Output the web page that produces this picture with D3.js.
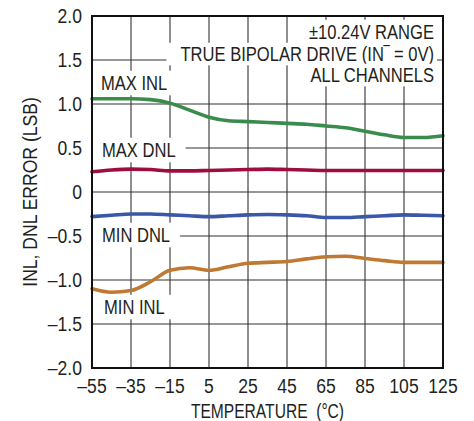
<!DOCTYPE html>
<html><head><meta charset="utf-8">
<script src="https://cdn.jsdelivr.net/npm/d3@7/dist/d3.min.js"></script>
<style>
html,body{margin:0;padding:0;background:#fff;}
svg text{font-family:"Liberation Sans","Arimo",Arial,sans-serif;fill:#231f20;}
</style></head>
<body>
<svg id="c" width="474" height="421"></svg>
<script>
const temps = [-55,-45,-35,-25,-15,-5,5,15,25,35,45,55,65,75,85,95,105,115,125];
const maxInl = [1.06,1.06,1.06,1.05,1.01,0.93,0.85,0.81,0.80,0.79,0.78,0.77,0.75,0.73,0.69,0.65,0.62,0.62,0.64];
const maxDnl = [0.23,0.25,0.26,0.255,0.24,0.24,0.245,0.25,0.255,0.26,0.255,0.25,0.245,0.245,0.245,0.245,0.245,0.245,0.245];
const minDnl = [-0.28,-0.265,-0.25,-0.25,-0.26,-0.27,-0.28,-0.27,-0.26,-0.255,-0.26,-0.27,-0.29,-0.29,-0.28,-0.27,-0.26,-0.265,-0.27];
const minInl = [-1.10,-1.14,-1.12,-1.02,-0.89,-0.86,-0.89,-0.85,-0.81,-0.80,-0.79,-0.76,-0.735,-0.73,-0.755,-0.78,-0.80,-0.80,-0.80];
const xTicks = [-55,-35,-15,5,25,45,65,85,105,125];
const yTicks = [-2.0,-1.5,-1.0,-0.5,0,0.5,1.0,1.5,2.0];
const yTickLabels = ["\u20132.0","\u20131.5","\u20131.0","\u20130.5","0","0.5","1.0","1.5","2.0"];
const xTickLabels = ["\u201355","\u201335","\u201315","5","25","45","65","85","105","125"];
const seriesNames = ["MAX INL","MAX DNL","MIN DNL","MIN INL"];
const seriesColors = ["#3a8c4c","#9e0d3c","#3a57a8","#c07932"];
const annotation = ["\u00B110.24V RANGE","TRUE BIPOLAR DRIVE (IN\u203E = 0V)","ALL CHANNELS"];

const L=92,R=443,T=16,B=368;
const FS=19.5, SX=0.85;
const x=d3.scaleLinear().domain([-55,125]).range([L,R]);
const y=d3.scaleLinear().domain([-2,2]).range([B,T]);
const svg=d3.select("#c");

function txt(parent,tx,ty,s,anchor,size,sx,pad){
  const g=parent.append("g").attr("transform",`translate(${tx},${ty}) scale(${sx},1)`);
  const t=g.append("text").attr("x",0).attr("y",0).attr("text-anchor",anchor)
    .attr("font-size",size).text(s);
  if(pad){
    const bb=t.node().getBBox();
    g.insert("rect","text").attr("x",bb.x-pad[0]/sx).attr("y",bb.y-pad[2])
      .attr("width",bb.width+(pad[0]+pad[1])/sx).attr("height",bb.height+pad[2]+pad[3]).attr("fill","#fff");
  }
  return g;
}

// grid
svg.append("g").selectAll("line").data(xTicks).join("line")
  .attr("x1",d=>x(d)).attr("x2",d=>x(d)).attr("y1",T).attr("y2",B)
  .attr("stroke","#333").attr("stroke-width",1.1);
svg.append("g").selectAll("line").data(yTicks).join("line")
  .attr("y1",d=>y(d)).attr("y2",d=>y(d)).attr("x1",L).attr("x2",R)
  .attr("stroke","#333").attr("stroke-width",1.1);

// series
const lines=[maxInl,maxDnl,minDnl,minInl];
const lineGen=d3.line().x((d,i)=>x(temps[i])).y(d=>y(d)).curve(d3.curveMonotoneX);

// label boxes + text (drawn above grid, below lines)
const labelG=svg.append("g");
const labelPos=[[101,90],[102,157],[102,242],[104,314]];
seriesNames.forEach((n,i)=>txt(labelG,labelPos[i][0],labelPos[i][1],n,"start",FS,SX,[9,10,2,1]));
txt(labelG,434,39,annotation[0],"end",FS,SX,[3,3,2,0]);
txt(labelG,434,61,annotation[1],"end",FS,SX,[14,3,1,0]);
txt(labelG,434,82,annotation[2],"end",FS,SX,[3,3,1,0]);

svg.append("g").selectAll("path").data(lines).join("path")
  .attr("d",d=>lineGen(d)).attr("fill","none")
  .attr("stroke",(d,i)=>seriesColors[i]).attr("stroke-width",3.6).attr("stroke-linecap","round");

// frame
svg.append("rect").attr("x",L).attr("y",T).attr("width",R-L).attr("height",B-T)
  .attr("fill","none").attr("stroke","#111").attr("stroke-width",2);

// ticks labels
const axG=svg.append("g");
yTicks.forEach((d,i)=>txt(axG,82,y(d)+7,yTickLabels[i],"end",FS,0.9));
xTicks.forEach((d,i)=>txt(axG,x(d),393,xTickLabels[i],"middle",FS,0.9));

txt(svg,(L+R)/2,418,"TEMPERATURE\u00A0\u00A0(\u00B0C)","middle",FS,0.8);
svg.append("g").attr("transform",`translate(37,${(T+B)/2}) rotate(-90) scale(0.9,1)`)
  .append("text").attr("text-anchor","middle").attr("font-size",FS).text("INL, DNL ERROR (LSB)");
</script>
</body></html>
